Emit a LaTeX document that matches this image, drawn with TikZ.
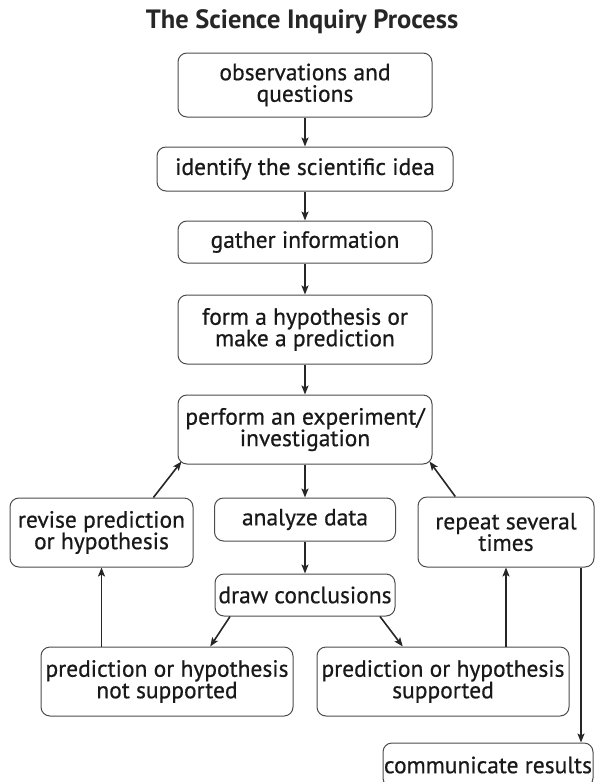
\documentclass[tikz,border=0pt]{standalone}
\usepackage{fontspec}
\setmainfont{PT Sans}
\newfontfamily\boxfont{PT Sans}[FakeBold=0.6]
\usepackage{tikz}
\usetikzlibrary{shapes, positioning, arrows.meta}

\begin{document}
\begin{tikzpicture}[x=1pt, y=-1pt,
		box/.style={draw=black!70, line width=1pt, rounded corners=9pt, align=center, inner sep=0pt, text=black!90, font=\boxfont\fontsize{23.5}{21.5}\selectfont},
		link/.style={line width=1.6pt, draw=black!85, -{Stealth[length=9pt, width=7pt, inset=2pt]}}]
			\useasboundingbox (0,0) rectangle (595,782);
			
			% titulo
			\node[font=\bfseries\fontsize{26.5}{26.5}\selectfont, text=black!85] (title) at (302,22) {The Science Inquiry Process};
			
			% coluna central
			\node[box, minimum width=254pt, minimum height=64pt] (obs) at (305,85) {observations and\\questions};
			\node[box, minimum width=296pt, minimum height=44pt] (idea) at (305,169) {identify the scientific idea};
			\node[box, minimum width=254pt, minimum height=42pt] (gather) at (305,242) {gather information};
			\node[box, minimum width=254pt, minimum height=69pt] (form) at (305,329.5) {form a hypothesis or\\make a prediction};
			\node[box, minimum width=254pt, minimum height=69pt] (perform) at (305,429.5) {perform an experiment/\\investigation};
			\node[box, minimum width=181pt, minimum height=43pt] (analyze) at (305,519.5) {analyze data};
			\node[box, minimum width=180pt, minimum height=42pt] (draw) at (305,595) {draw conclusions};
			
			% laterais
			\node[box, minimum width=183pt, minimum height=69pt] (revise) at (101.5,532.5) {revise prediction\\or hypothesis};
			\node[box, minimum width=176pt, minimum height=70pt] (repeat) at (506,532) {repeat several\\times};
			
			% resultados
			\node[box, minimum width=252pt, minimum height=69pt] (notsup) at (167,681.5) {prediction or hypothesis\\not supported};
			\node[box, minimum width=252pt, minimum height=69pt] (sup) at (443,681.5) {prediction or hypothesis\\supported};
			\node[box, minimum width=210pt, minimum height=44pt] (comm) at (488,765) {communicate results};
			
			% setas centrais
			\draw[link] (obs) -- (idea);
			\draw[link] (idea) -- (gather);
			\draw[link] (gather) -- (form);
			\draw[link] (form) -- (perform);
			\draw[link] (perform) -- (analyze);
			\draw[link] (analyze) -- (draw);
			
			% conclusoes
			\draw[link] (draw.196) -- (notsup.39);
			\draw[link] (draw.344) -- (sup.139);
			
			% voltas
			\draw[link] (notsup.north -| revise.south) -- (revise.south);
			\draw[link] (sup.north -| repeat.south) -- (repeat.south);
			\draw[link] (revise.34) -- ([xshift=4pt, yshift=3pt]perform.south west);
			\draw[link] (repeat.145) -- ([xshift=-3pt, yshift=3pt]perform.south east);
			
			% comunicar
			\coordinate (out) at ([xshift=75pt]repeat.south);
			\draw[link] (out) -- (out |- comm.north);
\end{tikzpicture}
\end{document}
